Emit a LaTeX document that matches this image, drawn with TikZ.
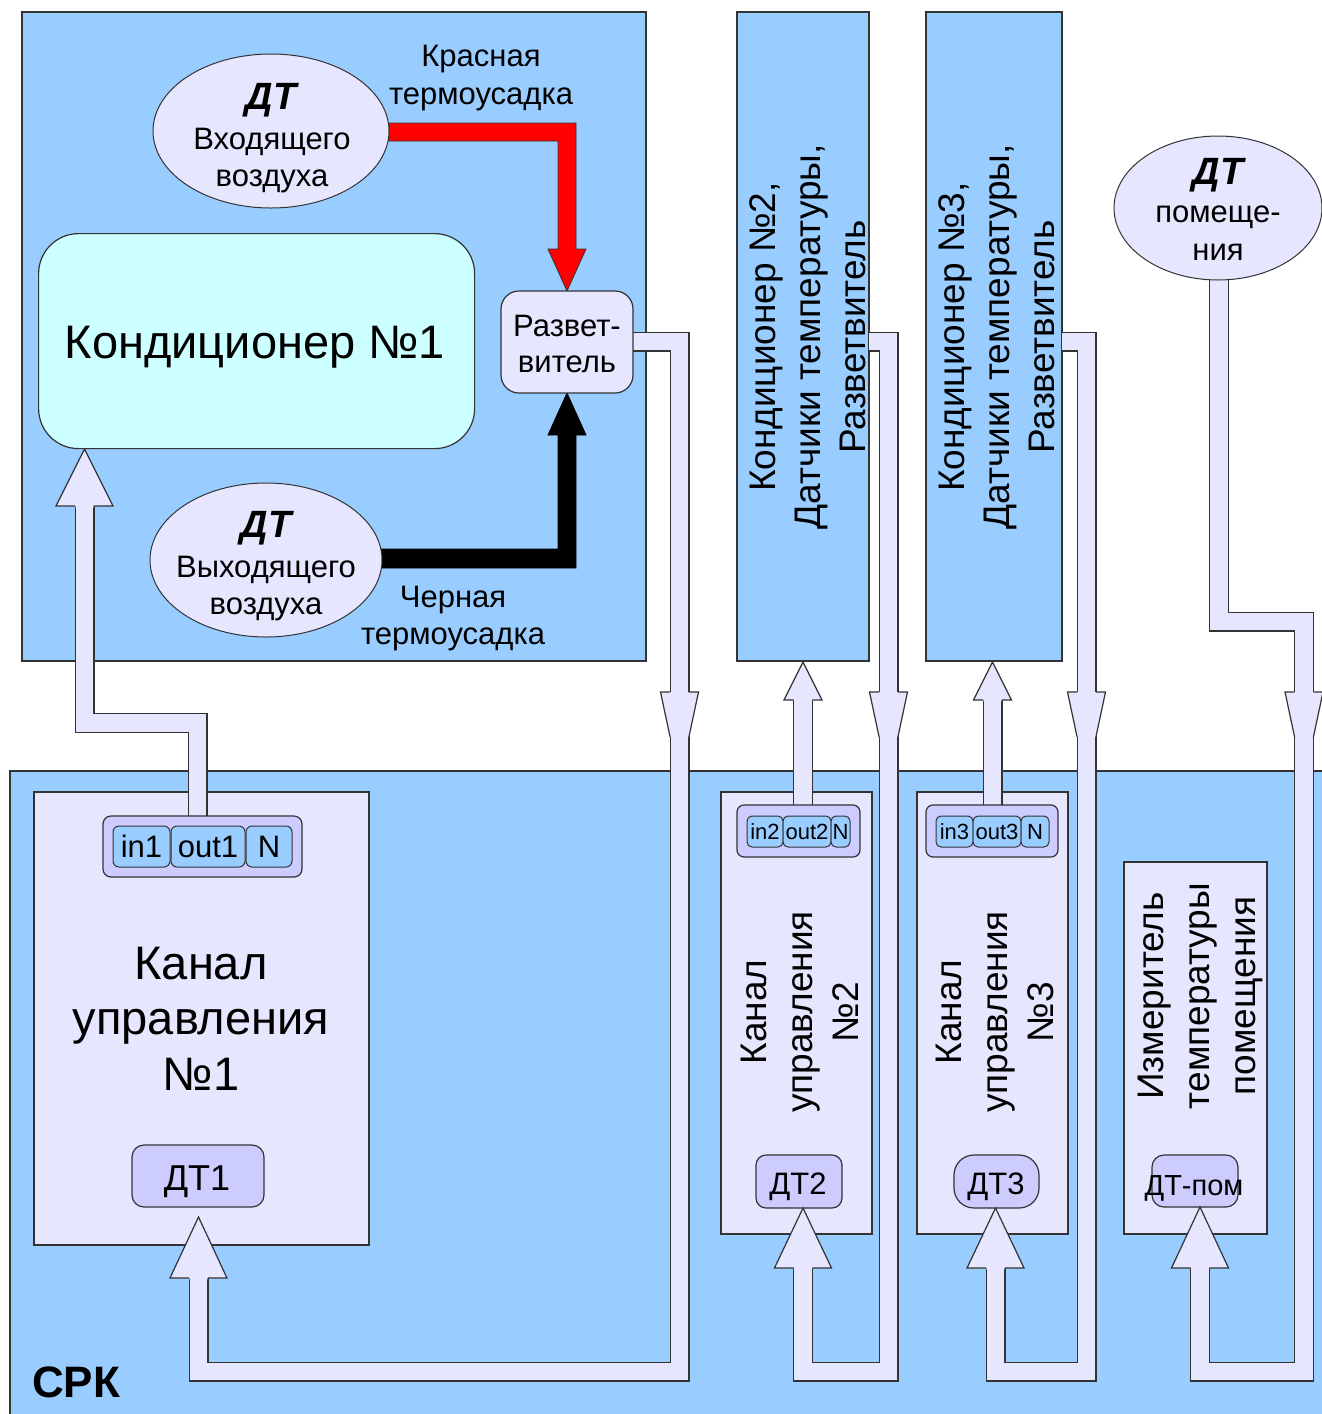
\documentclass[tikz,border=0pt]{standalone}
\usepackage{fontspec}
\setmainfont{Liberation Sans}
\usetikzlibrary{shapes.geometric}
\definecolor{bgblue}{HTML}{99CCFF}
\definecolor{lav}{HTML}{E6E6FF}
\definecolor{plum}{HTML}{CCCCFF}
\definecolor{cyanbox}{HTML}{CCFFFF}
\definecolor{ol}{HTML}{333333}
\definecolor{redarrow}{HTML}{FF0000}
\newcommand\pipepath[1]{\draw[pipeout] #1; \draw[pipein] #1;}
\newcommand\headup[4]{%
 \fill[lav] ({#1-8.8},{#2+1.5}) -- ({#1-8.8},#2) -- ({#1-#4},#2) -- (#1,#3) -- ({#1+#4},#2) -- ({#1+8.8},#2) -- ({#1+8.8},{#2+1.5}) -- cycle;
 \draw[edge] ({#1-9.4},#2) -- ({#1-#4},#2) -- (#1,#3) -- ({#1+#4},#2) -- ({#1+9.4},#2);}
\newcommand\downmark[1]{%
 \fill[lav] ({#1-19},692) -- ({#1+19},692) -- ({#1+9.4},737) -- ({#1-9.4},737) -- cycle;
 \draw[edge] ({#1-9.4},692) -- ({#1-19},692) -- ({#1-9.4},737);
 \draw[edge] ({#1+9.4},692) -- ({#1+19},692) -- ({#1+9.4},737);}
\tikzset{
 panel/.style={draw=ol, fill=bgblue, line width=1.2pt, inner sep=0pt, outer sep=0pt, anchor=north west},
 lavbox/.style={draw=ol, fill=lav, line width=1.2pt, inner sep=0pt, outer sep=0pt, anchor=north west},
 plumbox/.style={draw=ol, fill=plum, line width=1.2pt, inner sep=0pt, outer sep=0pt, anchor=north west},
 pill/.style={draw=ol, fill=bgblue, line width=1pt, inner sep=0pt, outer sep=0pt, rounded corners=6pt, anchor=north west},
 oval/.style={ellipse, draw=ol, fill=lav, line width=1pt, inner sep=0pt},
 pipeout/.style={draw=ol, line width=20pt, line join=miter},
 pipein/.style={draw=lav, line width=17.6pt, line join=miter},
 edge/.style={draw=ol, line width=1.2pt, line join=miter},
 txt/.style={anchor=base, inner sep=0pt, font=\fontsize{31}{37}\selectfont},
 big/.style={anchor=base, inner sep=0pt, font=\fontsize{47}{56}\selectfont},
 dtlab/.style={anchor=base, inner sep=0pt, font=\fontsize{38}{40}\selectfont\bfseries\itshape},
 vtext/.style={rotate=90, align=center, inner sep=0pt, font=\fontsize{37}{45}\selectfont},
 vtextb/.style={rotate=90, align=center, inner sep=0pt, font=\fontsize{37}{46}\selectfont},
}
\begin{document}
\begin{tikzpicture}[x=1pt,y=-1pt]
\useasboundingbox (0,0) rectangle (1322,1414);
\fill[white] (0,0) rectangle (1322,1414);
% panels
\node[panel, minimum width=624pt, minimum height=649pt] (top) at (22,12) {};
\node[panel, minimum width=132pt, minimum height=649pt] (col2) at (737,12) {};
\node[panel, minimum width=136pt, minimum height=649pt] (col3) at (926,12) {};
\node[panel, minimum width=1330pt, minimum height=660pt] (srk) at (10,771) {};
% control channel boxes
\node[lavbox, minimum width=335pt, minimum height=453pt] (c1) at (34,792) {};
\node[lavbox, minimum width=151pt, minimum height=442pt] (c2) at (721,792) {};
\node[lavbox, minimum width=151pt, minimum height=442pt] (c3) at (917,792) {};
\node[lavbox, minimum width=143pt, minimum height=372pt] (izm) at (1124,862) {};
% DT boxes
\node[plumbox, rounded corners=12pt, minimum width=132pt, minimum height=62pt] (dt1) at (132,1145) {};
\node[plumbox, rounded corners=10pt, minimum width=86pt, minimum height=53pt] (dt2) at (756,1155) {};
\node[plumbox, rounded corners=20pt, minimum width=85pt, minimum height=53pt] (dt3) at (954,1155) {};
\node[plumbox, rounded corners=12pt, minimum width=86pt, minimum height=52pt] (dtp) at (1152,1155) {};
% conditioner 1
\node[draw=ol, fill=cyanbox, line width=1.2pt, rounded corners=40pt, inner sep=0pt, anchor=north west, minimum width=436pt, minimum height=215pt] (k1) at (38,233) {};
% pipes
\coordinate (pA0) at (620,341.5);
\coordinate (pB0) at (869,341.5);
\coordinate (pC0) at (1062,341.5);
\coordinate (pD0) at (1219,250);
\coordinate (pE0) at (197.5,824);
\coordinate (pF0) at (803,812);
\coordinate (pG0) at (992.5,812);
\pipepath{(pA0) -- (679.5,341.5) -- (679.5,1371.5) -- (198.5,1371.5) -- (198.5,1278)}
\pipepath{(pB0) -- (888.5,341.5) -- (888.5,1371.5) -- (803,1371.5) -- (803,1268)}
\pipepath{(pC0) -- (1086.5,341.5) -- (1086.5,1371.5) -- (995.5,1371.5) -- (995.5,1268)}
\pipepath{(pD0) -- (1219,621.5) -- (1304,621.5) -- (1304,1371.5) -- (1200,1371.5) -- (1200,1268)}
\pipepath{(pE0) -- (197.5,723) -- (84.5,723) -- (84.5,506)}
\pipepath{(pF0) -- (803,700)}
\pipepath{(pG0) -- (992.5,700)}
\headup{198.5}{1278}{1217}{28.5}
\headup{803}{1268}{1208}{28.5}
\headup{995.5}{1268}{1208}{28.5}
\headup{1200}{1268}{1207}{28.5}
\headup{84.5}{506}{449}{28.5}
\headup{803}{700}{662}{19}
\headup{992.5}{700}{662}{19}
\downmark{679.5}
\downmark{888.5}
\downmark{1086.5}
\downmark{1304}
% connector blocks
\node[plumbox, rounded corners=8pt, minimum width=199pt, minimum height=61pt] (b1) at (103,816) {};
\node[pill, minimum width=57pt, minimum height=41pt, font=\fontsize{31}{37}\selectfont] (in1) at (113,826) {in1};
\node[pill, minimum width=74pt, minimum height=41pt, font=\fontsize{31}{37}\selectfont] (out1) at (171,826) {out1};
\node[pill, minimum width=46pt, minimum height=41pt, font=\fontsize{31}{37}\selectfont] (n1) at (246,826) {N};
\node[plumbox, rounded corners=7pt, minimum width=123pt, minimum height=52pt] (b2) at (737,805) {};
\node[pill, rounded corners=5pt, minimum width=36pt, minimum height=31pt, font=\fontsize{22}{26}\selectfont] (in2) at (747,816) {in2};
\node[pill, rounded corners=5pt, minimum width=48pt, minimum height=31pt, font=\fontsize{22}{26}\selectfont] (out2) at (783,816) {out2};
\node[pill, rounded corners=5pt, minimum width=19pt, minimum height=31pt, font=\fontsize{22}{26}\selectfont] (n2) at (831,816) {N};
\node[plumbox, rounded corners=7pt, minimum width=132pt, minimum height=52pt] (b3) at (926,805) {};
\node[pill, rounded corners=5pt, minimum width=37pt, minimum height=31pt, font=\fontsize{22}{26}\selectfont] (in3) at (936,816) {in3};
\node[pill, rounded corners=5pt, minimum width=48pt, minimum height=31pt, font=\fontsize{22}{26}\selectfont] (out3) at (973,816) {out3};
\node[pill, rounded corners=5pt, minimum width=28pt, minimum height=31pt, font=\fontsize{22}{26}\selectfont] (n3) at (1021,816) {N};
% red and black heat-shrink arrows
\filldraw[fill=redarrow, draw=ol, line width=0.8pt, line join=miter] (370,123) -- (576,123) -- (576,249) -- (586,249) -- (567,291) -- (548,249) -- (558,249) -- (558,141) -- (370,141) -- cycle;
\filldraw[fill=black, draw=black, line width=0.8pt, line join=miter] (370,549) -- (558,549) -- (558,435) -- (548,435) -- (567,393) -- (586,435) -- (576,435) -- (576,568) -- (370,568) -- cycle;
% ellipses and splitter
\node[oval, minimum width=236pt, minimum height=154pt] (e1) at (271,131) {};
\node[oval, minimum width=232pt, minimum height=154pt] (e2) at (266,560) {};
\node[oval, minimum width=208pt, minimum height=144pt] (e3) at (1218,208) {};
\node[lavbox, rounded corners=18pt, minimum width=132pt, minimum height=102pt] (spl) at (501,291) {};
% texts
\node[big] (k1t) at (255,358) {Кондиционер №1};
\node[txt] (spl1) at (567,336) {Развет-};
\node[txt] (spl2) at (567,372) {витель};
\node[dtlab] (e1a) at (271,109) {ДТ};
\node[txt] (e1b) at (272,149) {Входящего};
\node[txt] (e1c) at (272,186) {воздуха};
\node[dtlab] (e2a) at (266,537) {ДТ};
\node[txt] (e2b) at (266,577) {Выходящего};
\node[txt] (e2c) at (266,614) {воздуха};
\node[dtlab] (e3a) at (1218,184) {ДТ};
\node[txt] (e3b) at (1218,222) {помеще-};
\node[txt] (e3c) at (1218,260) {ния};
\node[txt] (red1) at (481,66) {Красная};
\node[txt] (red2) at (481,104) {термоусадка};
\node[txt] (blk1) at (453,607) {Черная};
\node[txt] (blk2) at (453,644) {термоусадка};
\node[big] (c1a) at (201,979) {Канал};
\node[big] (c1b) at (201,1034) {управления};
\node[big] (c1c) at (201,1090) {№1};
\node[anchor=base, inner sep=0pt, font=\fontsize{36}{40}\selectfont] (dt1t) at (197,1190) {ДТ1};
\node[anchor=base, inner sep=0pt, font=\fontsize{31}{37}\selectfont] (dt2t) at (798,1194) {ДТ2};
\node[anchor=base, inner sep=0pt, font=\fontsize{31}{37}\selectfont] (dt3t) at (996,1194) {ДТ3};
\node[anchor=base, inner sep=0pt, font=\fontsize{29}{35}\selectfont] (dtpt) at (1194,1195) {ДТ-пом};
\node[anchor=base, inner sep=0pt, font=\fontsize{44}{50}\selectfont\bfseries] (srkt) at (76,1397) {СРК};
\node[vtext] (col2t) at (807.5,337) {Кондиционер №2,\\Датчики температуры,\\Разветвитель};
\node[vtext] (col3t) at (997,337) {Кондиционер №3,\\Датчики температуры,\\Разветвитель};
\node[vtextb] (c2t) at (800,1012) {Канал\\управления\\№2};
\node[vtextb] (c3t) at (995,1012) {Канал\\управления\\№3};
\node[vtextb] (izmt) at (1200,996) {Измеритель\\температуры\\помещения};
\end{tikzpicture}
\end{document}
